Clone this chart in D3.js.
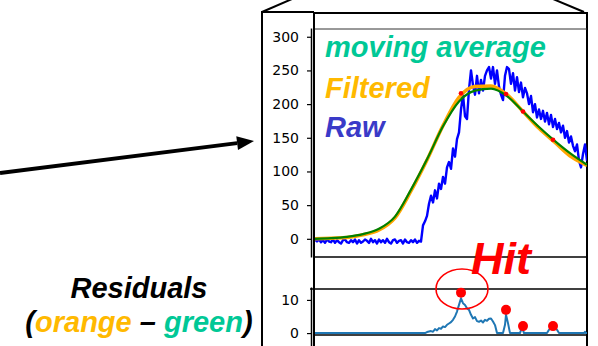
<!DOCTYPE html>
<html>
<head>
<meta charset="utf-8">
<script src="https://cdn.jsdelivr.net/npm/d3@7"></script>
<style>
  html, body { margin: 0; padding: 0; background: #fff; }
  svg { display: block; }
  .tick text { font-family: "DejaVu Sans", sans-serif; font-size: 14px; fill: #000; }
  .note { font-family: "Liberation Sans", Arial, sans-serif; font-weight: bold; font-style: italic; }
</style>
</head>
<body>
<div id="chart"></div>
<script>
// raw signal, one sample every 2 frames (frame 0 .. 272)
const rawStep = 2;
const rawValues = [
  -1, -4, -1, -5, -2, -6, -1, -4, -5, -1, -6, -2, -5, -7, -2, -1, -5, -6, -2, -5,
  -1, -7, -2, -6, -4, -1, -3, -6, 0, -5, -2, -7, -1, -5, -2, -6, 0, -5, -7, -2,
  -1, -6, -3, -2, -7, -1, -5, -6, -2, -5, -1, -6, -3,
  -4, 20, 26, 34, 52, 64, 54, 72, 60, 82, 74, 92, 82, 106, 114, 104, 134, 122, 148, 158,
  192, 214, 182, 178, 222, 250, 228, 214, 242, 216, 236, 220, 242, 250, 255, 238, 255, 230, 250, 226,
  214, 206, 242, 255, 252, 230, 246, 220, 240, 218, 232, 210, 224, 216, 200, 212, 188, 200, 180, 192,
  178, 190, 174, 187, 170, 184, 166, 178, 163, 172, 158, 168, 150, 160, 143, 152, 138, 130, 140, 116,
  106, 126, 140, 116
];

// smooth curves, sampled every 16 frames
const smoothFrames = [0, 16, 32, 48, 64, 80, 96, 112, 128, 144, 160, 176, 192, 208, 224, 240, 256, 272];
const movingAverage = [0, 1, 3, 7, 15, 33, 73, 118, 167, 204, 220, 223, 212, 189, 166, 145, 126, 110];
const filtered      = [0, 1, 2, 6, 13, 31, 71, 117, 168, 210, 226, 227, 214, 189, 164, 143, 122, 109];

// residuals (orange - green)
const resFrames = [0, 110, 112, 116, 118, 120, 122, 124, 126, 128, 130, 132, 134, 136, 138, 140, 142, 144,
  146, 148, 150, 152, 154, 156, 158, 160, 162, 164, 166, 168, 170, 172, 174, 176, 178, 180, 182,
  188, 190, 191, 193, 195, 205, 207, 209, 232, 234, 236, 238, 240, 242, 244, 269, 270, 271, 272];
const resValues = [0, 0, 0.3, 0.6, 0.4, 1.2, 0.8, 1.5, 1.3, 2, 1.8, 2.5, 2.9, 3.3, 4, 5, 6.5, 8.5,
  10.5, 9, 8.5, 7.5, 7, 5.5, 4.4, 4.8, 3.6, 3.4, 3.8, 3.2, 4, 3.7, 4.3, 4.4, 3.5, 2.4, 0,
  0, 2.5, 5.5, 3, 0, 0, 1.8, 0, 0, 1, 1.5, 1.2, 1.5, 1, 0, 0, 0.4, 0, 0];
const threshold = 13.3;

// detected hits
const hitFrames = [146, 191, 208, 238];
const hitFiltered = [216, 215, 189, 147];
const hitResidual = [12.2, 7, 2.1, 2.1];

const yTicks = [0, 50, 100, 150, 200, 250, 300];
const resTicks = [0, 10];

const width = 598, height = 346;

const svg = d3.select('#chart')
  .append('svg')
  .attr('width', width)
  .attr('height', height);

const x = d3.scaleLinear().domain([0, 272]).range([315, 587]);
const y = d3.scaleLinear().domain([-27, 313]).range([257, 28]);
const yRes = d3.scaleLinear().domain([-3.9, 13.9]).range([346, 287]);

const defs = svg.append('defs');
defs.append('clipPath').attr('id', 'clip-main')
  .append('rect').attr('x', 315).attr('y', 29).attr('width', 272).attr('height', 228);
defs.append('clipPath').attr('id', 'clip-res')
  .append('rect').attr('x', 315).attr('y', 258).attr('width', 272).attr('height', 88);

// zoom frame
const frame = svg.append('g').attr('stroke', '#000').attr('stroke-width', 2).attr('fill', 'none');
frame.append('path').attr('d', 'M262,12 L292,-1');
frame.append('path').attr('d', 'M553,-1 L584,12');
frame.append('path').attr('d', 'M262,347 L262,12 L314,12');
frame.append('path').attr('d', 'M314,347 L314,13 L587,13 L587,347');

// plot borders
svg.append('line').attr('x1', 315).attr('x2', 587).attr('y1', 29).attr('y2', 29)
  .attr('stroke', '#333').attr('stroke-width', 1);
svg.append('line').attr('x1', 315).attr('x2', 587).attr('y1', 257).attr('y2', 257)
  .attr('stroke', '#000').attr('stroke-width', 1.5);
svg.append('line').attr('x1', 315).attr('x2', 587).attr('y1', 335).attr('y2', 335)
  .attr('stroke', '#000').attr('stroke-width', 1.5);
svg.append('line').attr('x1', 310).attr('x2', 587).attr('y1', yRes(threshold)).attr('y2', yRes(threshold))
  .attr('stroke', '#000').attr('stroke-width', 1.5);

// axes
const yAxis = svg.append('g')
  .attr('transform', 'translate(311,0)')
  .call(d3.axisLeft(y).tickValues(yTicks).tickSize(4).tickSizeOuter(0).tickPadding(8));
const resAxis = svg.append('g')
  .attr('transform', 'translate(311,0)')
  .call(d3.axisLeft(yRes).tickValues(resTicks).tickSize(4).tickSizeOuter(0).tickPadding(8));
[yAxis, resAxis].forEach(a => {
  a.select('.domain').attr('stroke', '#000').attr('stroke-width', 1.5);
  a.selectAll('.tick line').attr('stroke', '#000').attr('stroke-width', 1.2);
});

// main plot
const main = svg.append('g').attr('clip-path', 'url(#clip-main)');

const rawLine = d3.line()
  .x((d, i) => x(i * rawStep))
  .y(d => y(d));
main.append('path')
  .datum(rawValues)
  .attr('fill', 'none')
  .attr('stroke', '#0000ff')
  .attr('stroke-width', 2.4)
  .attr('stroke-linejoin', 'round')
  .attr('d', rawLine);

const smooth = d3.line()
  .x((d, i) => x(smoothFrames[i]))
  .y(d => y(d))
  .curve(d3.curveMonotoneX);

main.append('path')
  .datum(filtered)
  .attr('fill', 'none')
  .attr('stroke', '#ffa500')
  .attr('stroke-width', 3.5)
  .attr('d', smooth);

main.append('path')
  .datum(movingAverage)
  .attr('fill', 'none')
  .attr('stroke', '#008000')
  .attr('stroke-width', 2.2)
  .attr('d', smooth);

main.selectAll('.hit-dot')
  .data(hitFrames)
  .join('circle')
  .attr('cx', d => x(d))
  .attr('cy', (d, i) => y(hitFiltered[i]))
  .attr('r', 2.3)
  .attr('fill', '#ff0000');

// labels in main plot
const labels = [
  { text: 'moving average', color: '#00c896', y: 57 },
  { text: 'Filtered', color: '#ffb900', y: 98 },
  { text: 'Raw', color: '#3a3ac8', y: 137 }
];
svg.selectAll('.series-label')
  .data(labels)
  .join('text')
  .attr('class', 'note')
  .attr('x', 325)
  .attr('y', d => d.y)
  .attr('font-size', 29)
  .attr('fill', d => d.color)
  .text(d => d.text);

// residual plot
const res = svg.append('g').attr('clip-path', 'url(#clip-res)');
const resLine = d3.line()
  .x((d, i) => x(resFrames[i]))
  .y(d => yRes(d));
res.append('path')
  .datum(resValues)
  .attr('fill', 'none')
  .attr('stroke', '#1f77b4')
  .attr('stroke-width', 2)
  .attr('stroke-linejoin', 'round')
  .attr('d', resLine);

res.selectAll('.res-dot')
  .data(hitFrames)
  .join('circle')
  .attr('cx', d => x(d))
  .attr('cy', (d, i) => yRes(hitResidual[i]))
  .attr('r', 5)
  .attr('fill', '#ff0000');

svg.append('ellipse')
  .attr('cx', x(hitFrames[0]) + 1)
  .attr('cy', yRes(threshold))
  .attr('rx', 26)
  .attr('ry', 20)
  .attr('fill', 'none')
  .attr('stroke', '#ff0000')
  .attr('stroke-width', 1.6);

svg.append('text')
  .attr('class', 'note')
  .attr('x', 471)
  .attr('y', 274)
  .attr('font-size', 45)
  .attr('fill', '#ff0000')
  .text('Hit');

// arrow pointing at the plot
const a0 = [0, 173], a1 = [254, 141];
const ang = Math.atan2(a1[1] - a0[1], a1[0] - a0[0]);
const headLen = 17, headHalf = 7;
const base = [a1[0] - headLen * Math.cos(ang), a1[1] - headLen * Math.sin(ang)];
svg.append('line')
  .attr('x1', a0[0]).attr('y1', a0[1])
  .attr('x2', base[0]).attr('y2', base[1])
  .attr('stroke', '#000').attr('stroke-width', 4);
svg.append('polygon')
  .attr('points', [
    a1,
    [base[0] + headHalf * Math.sin(ang), base[1] - headHalf * Math.cos(ang)],
    [base[0] - headHalf * Math.sin(ang), base[1] + headHalf * Math.cos(ang)]
  ].map(p => p.join(',')).join(' '))
  .attr('fill', '#000');

// residual caption
svg.append('text')
  .attr('class', 'note')
  .attr('x', 139)
  .attr('y', 298)
  .attr('text-anchor', 'middle')
  .attr('font-size', 29)
  .attr('fill', '#000')
  .text('Residuals');

const cap = svg.append('text')
  .attr('class', 'note')
  .attr('x', 139)
  .attr('y', 332)
  .attr('text-anchor', 'middle')
  .attr('font-size', 29)
  .attr('fill', '#000');
cap.append('tspan').text('(');
cap.append('tspan').attr('fill', '#ffb900').text('orange');
cap.append('tspan').text(' – ');
cap.append('tspan').attr('fill', '#00c896').text('green');
cap.append('tspan').text(')');
</script>
</body>
</html>
